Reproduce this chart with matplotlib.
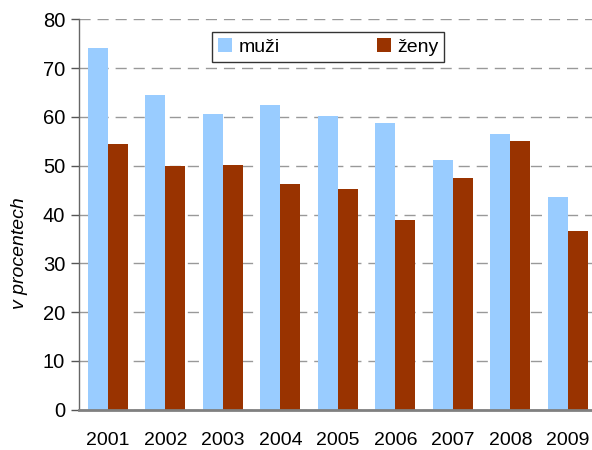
import matplotlib
matplotlib.use("Agg")
import matplotlib.pyplot as plt
import numpy as np

years = ["2001", "2002", "2003", "2004", "2005", "2006", "2007", "2008", "2009"]
muzi = [74.1, 64.5, 60.6, 62.5, 60.2, 58.8, 51.2, 56.5, 43.5]
zeny = [54.5, 50.0, 50.2, 46.3, 45.3, 38.8, 47.5, 55.1, 36.7]
yticks = [0, 10, 20, 30, 40, 50, 60, 70, 80]

plt.rcParams['font.family'] = ['Liberation Sans', 'DejaVu Sans']

fig = plt.figure(figsize=(5.92, 4.5), dpi=100)
ax = fig.add_axes([79/592, 1-409.7/450, 517.75/592, 390.4/450])

x = np.arange(len(years))
w = 0.348
ax.bar(x - w/2, muzi, width=w, color='#99ccff', label='muži', zorder=3)
ax.bar(x + w/2, zeny, width=w, color='#993300', label='ženy', zorder=3)

ax.set_xlim(-0.5, len(years) - 0.5)
ax.set_ylim(0, 80)
ax.set_yticks(yticks)
ax.set_xticks(x)
ax.set_xticklabels(years, fontsize=14)
ax.tick_params(axis='y', labelsize=14.5, length=6, width=1, color='#555555', pad=4)
ax.tick_params(axis='x', length=0, pad=16)

ax.yaxis.grid(True, linestyle=(0, (8, 5)), color='#999999', linewidth=1, zorder=0)
for s in ['top', 'right']:
    ax.spines[s].set_visible(False)
ax.spines['left'].set_color('#666666')
ax.spines['left'].set_linewidth(1)
ax.spines['bottom'].set_color('#808080')
ax.spines['bottom'].set_linewidth(2)
ax.spines['bottom'].set_zorder(4)

ax.set_ylabel('v procentech', fontsize=14, style='italic')
ax.yaxis.set_label_coords(-0.098, 0.40)

leg = ax.legend(loc='upper left', bbox_to_anchor=((212-79)/517.75, (409.7-32)/390.4),
                ncol=2, fontsize=14, frameon=True, fancybox=False, edgecolor='black',
                handlelength=0.75, handleheight=0.75, columnspacing=5.0, handletextpad=0.3,
                borderpad=0.3, borderaxespad=0)
leg.get_frame().set_linewidth(1)

fig.savefig('out.png', dpi=100)
